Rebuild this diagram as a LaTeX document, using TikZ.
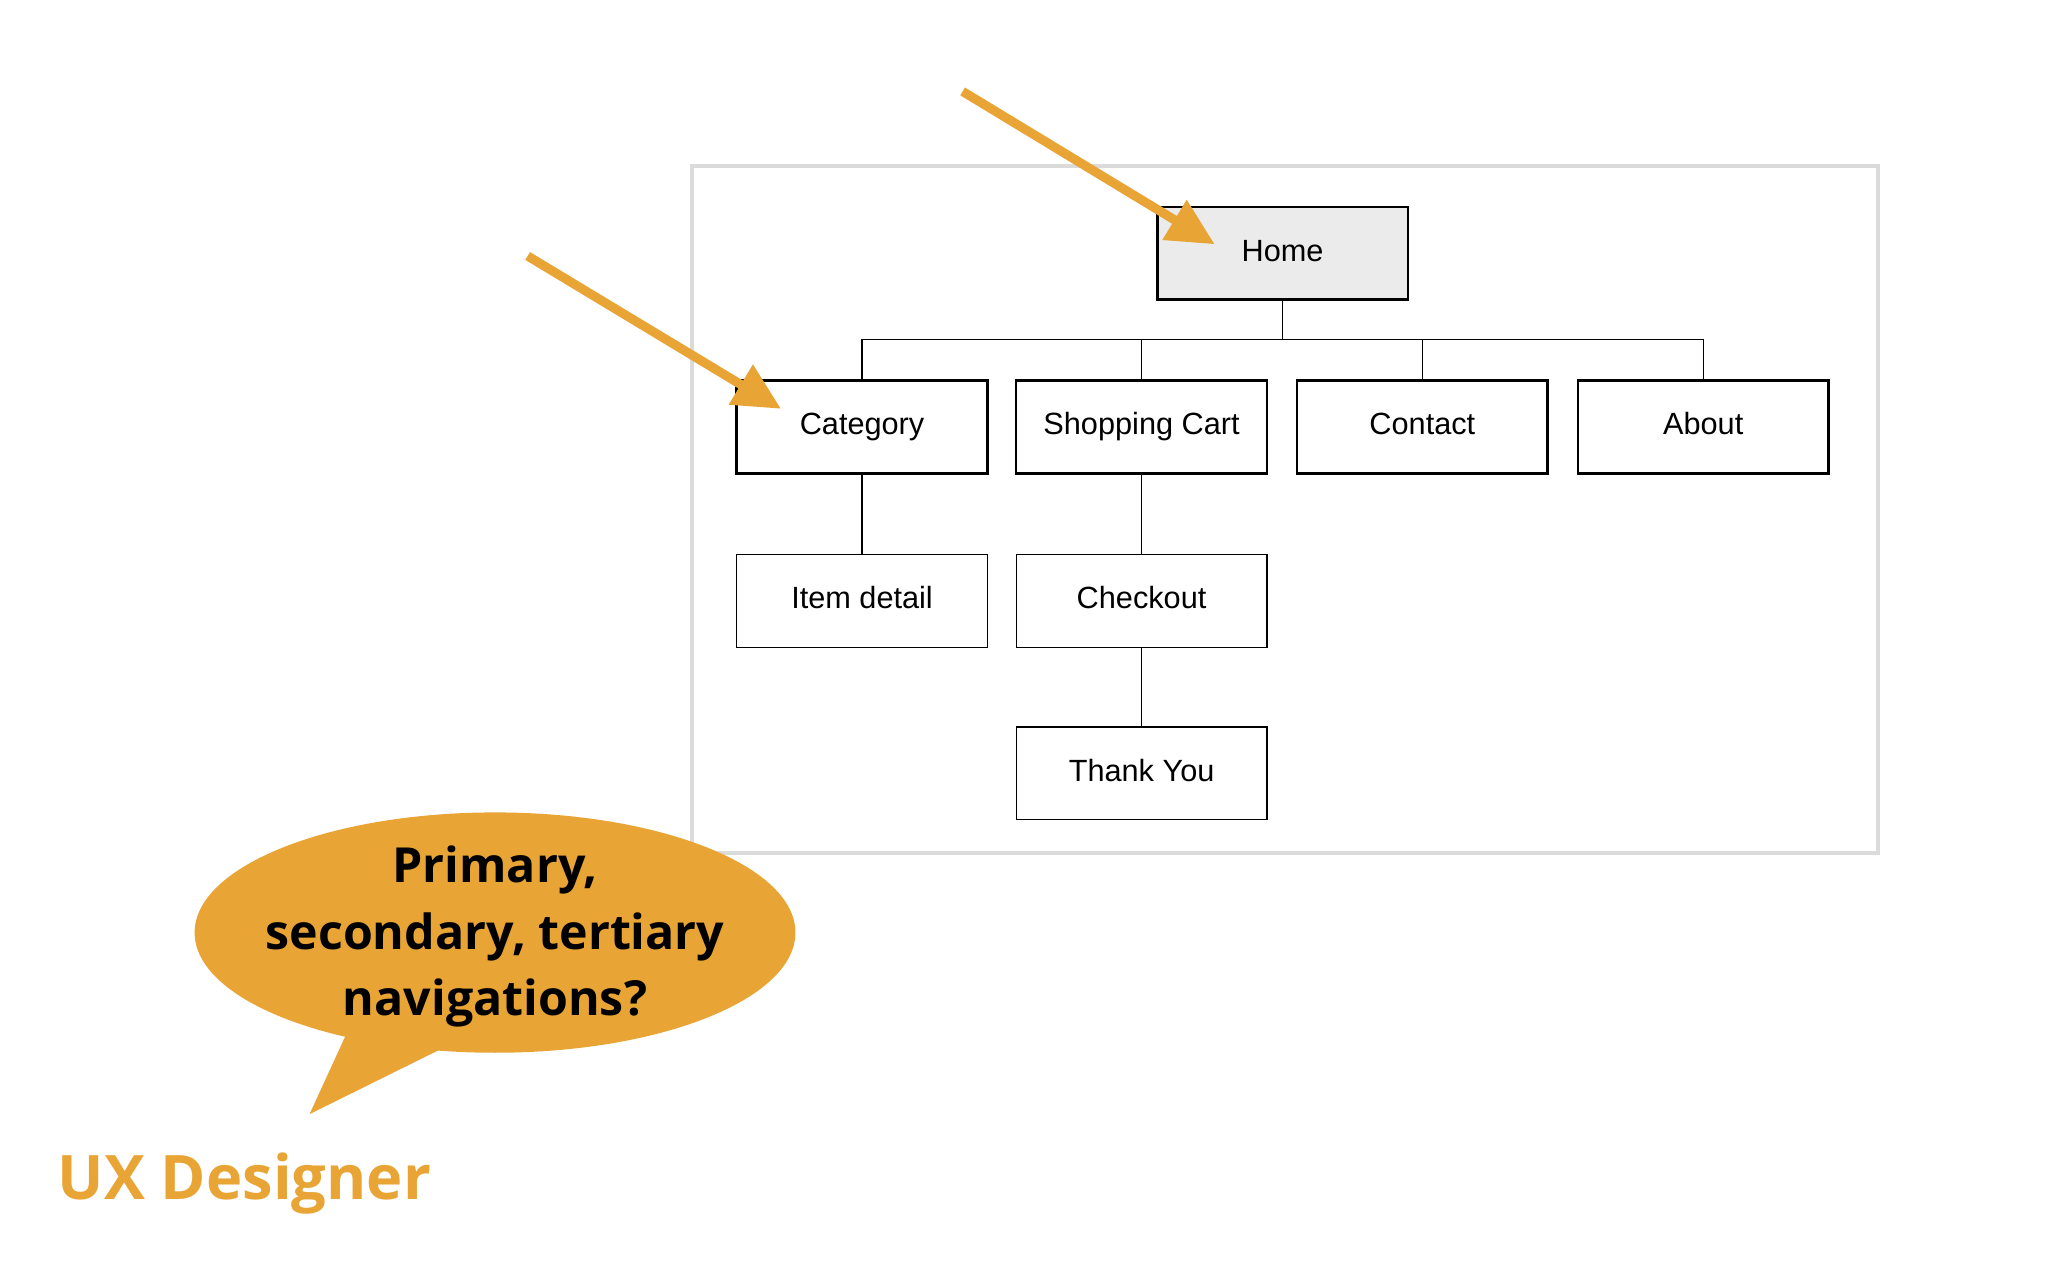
\documentclass[tikz,border=0pt]{standalone}
\usepackage{fontspec}
\setmainfont{Liberation Sans}
\newfontfamily\opensans{Open Sans}
\usetikzlibrary{arrows.meta}
\definecolor{ux}{HTML}{E8A435}
\begin{document}
\begin{tikzpicture}[x=1pt,y=-1pt,
  box/.style={draw,line width=2pt,minimum width=192pt,minimum height=71pt,text height=17pt,text depth=5pt,font=\fontsize{23.5}{27}\selectfont},
  sbox/.style={box,line width=1pt},
  con/.style={line width=1pt},
  arr/.style={draw=ux,line width=7pt,-{Triangle[length=36pt,width=34pt]}}]
\useasboundingbox (0,0) rectangle (1568,980);
\draw[line width=3pt,color=black!14] (530,127) rectangle (1438,653);
\node[box,fill=black!8] (home) at (982,194) {Home};
\node[box] (cat) at (660,327) {Category};
\node[box] (cart) at (874,327) {Shopping Cart};
\node[box] (con) at (1089,327) {Contact};
\node[box] (about) at (1304,327) {About};
\node[sbox] (item) at (660,460) {Item detail};
\node[sbox] (chk) at (874,460) {Checkout};
\node[sbox] (ty) at (874,592) {Thank You};
\coordinate (j) at (982,260);
\draw[con] (home.south) -- (j);
\draw[con] (cat.north) |- (j) -| (about.north);
\draw[con] (cart.north) -- ++(0,-31);
\draw[con] (con.north) -- ++(0,-31);
\draw[con] (cat.south) -- (item.north);
\draw[con] (cart.south) -- (chk.north);
\draw[con] (chk.south) -- (ty.north);
\coordinate (a1) at (737,70);
\coordinate (a2) at (404,196);
\draw[arr] (a1) -- (930,187);
\draw[arr] (a2) -- (598,313);
\fill[ux] (265,792) -- (237,853) -- (340,802) -- cycle;
\fill[ux] (379,714) ellipse [x radius=230, y radius=92];
\node[font=\opensans\bfseries\fontsize{37}{51}\selectfont,align=center] (bub) at (379,717) {Primary,\\secondary, tertiary\\navigations?};
\node[font=\opensans\bfseries\fontsize{47}{56}\selectfont,text=ux,anchor=west,inner sep=0] (ux) at (44,906) {UX Designer};
\end{tikzpicture}
\end{document}
